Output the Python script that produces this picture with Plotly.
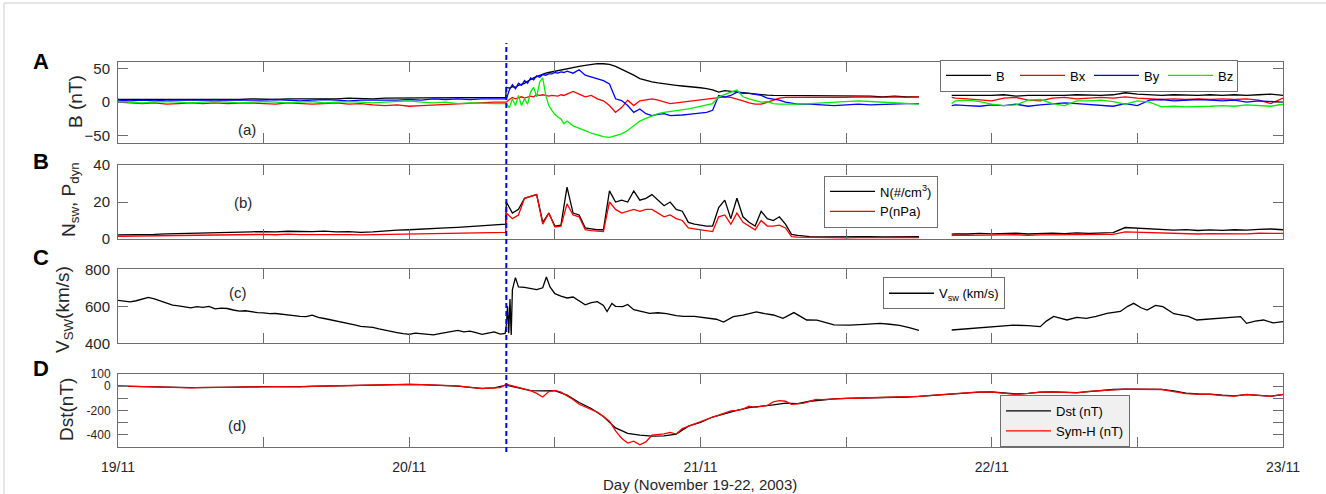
import pandas as pd
import plotly.graph_objects as go

# ---------------------------------------------------------------------------
# Time grids (hours after 19 Nov 2003 00:00 UT)
# ---------------------------------------------------------------------------
START = pd.Timestamp("2003-11-19 00:00")
shock_hour = 32.0

quiet_hours = list(range(0, 32))
imf_hours = (quiet_hours + [31.95]
             + [32 + 0.25 * i for i in range(21)]
             + [37.5 + 0.5 * i for i in range(38)]
             + list(range(57, 67)) + [67, 68.7] + list(range(69, 97)))

plasma_hours = (quiet_hours + [31.95]
                + [32 + 0.5 * i for i in range(49)]
                + list(range(57, 67)) + [67, 68.7] + list(range(69, 97)))

speed_hours = [0.5 * i for i in range(64)] + [
    31.9, 32.0, 32.1, 32.2, 32.3, 32.4, 32.5, 32.75, 33.0, 33.5,
    34.0, 34.5, 35.0, 35.3, 35.6, 36.0, 36.5, 37.0, 37.5, 38.0,
    38.5, 39.0, 39.5, 40.0, 40.3, 40.7, 41.0, 41.6, 42.0, 42.5,
    43.0, 43.8, 44.5, 45.2, 46.0, 46.6, 47.5, 48.5, 49.3, 49.9,
    50.7, 51.5, 52.6, 53.3, 54.0, 54.8, 55.7, 56.75, 57.6, 59.0,
    60.3, 61.5, 62.8, 63.6, 64.4, 65.2, 66.0, 67.0, 68.7, 70,
    71, 72, 73.8, 75, 76, 76.5, 77.1, 78.2, 79, 79.8,
    80.6, 81.5, 82.6, 83.2, 83.7, 84.3, 84.8, 85.5, 86.1, 87.0,
    87.5, 88.2, 88.9, 89.6, 90.3, 91.4, 92.5, 93.0, 93.7, 94.4,
    95.2, 96.0]

dst_hours = list(range(0, 97))
symh_hours = list(range(0, 28)) + [28 + 0.5 * i for i in range(73)] + list(range(65, 97))

# ---------------------------------------------------------------------------
# (a) IMF magnitude and GSM components, nT
# ---------------------------------------------------------------------------
imf_b = ([4, 4, 3, 4, 4, 3, 4, 4, 3, 4, 4, 5, 4, 4, 5, 5, 4, 5, 5, 6, 5, 5, 6, 6, 7, 6, 6, 7, 7, 6, 7, 7]
         + [7]
         + [22, 21, 23, 22, 25, 26, 28, 31, 34, 36, 38, 40, 42, 43, 44, 45, 45.5, 46, 47, 48, 49.5]
         + [51, 53, 54.5, 56, 57, 57, 56, 53, 49, 45, 40, 35, 32, 30, 28.5, 27, 26, 25, 24, 23.3,
            22.5, 21.4, 20, 18.4, 15, 17, 16, 15, 14, 12.5, 12, 11, 10.5, 10, 10, 10, 9.5, 9.5]
         + [9, 9, 9, 10, 9, 9, 8, 9, 8, 8] + [None]
         + [10, 10, 9, 10, 10, 11, 9, 10, 10, 9, 10, 11, 10, 10, 11, 14, 12, 11, 10, 11, 10, 10, 11, 10,
            11, 10, 11, 12, 10])

imf_bx = ([0, -1, -2, -1, -3, -2, -1, -2, -1, -2, -1, -1, -2, -3, -1, -2, -3, -2, -1, -3, -2, -4, -5, -4,
           -6, -5, -4, -3, -2, -1, 0, 0]
          + [0]
          + [0, 4, 7, 5, 7, 8, 6, 8, 9, 8, 11, 10, 11, 10, 9, 10, 10, 9, 11, 10, 12]
          + [16, 12, 8, 10, 5, 2, -5, -15, -8, 3, -5, 2, 4, 5, 3, 0, -2, -1, 0, 2,
             3, 4, 5, 6, 7, 8, 7, 5, 2, -1, -3, -3, 0, 4, 6, 7, 7, 7]
          + [7, 6, 7, 7, 8, 7, 7, 8, 7, 8] + [None]
          + [7, 6, 5, 3, 2, 6, 7, 3, 2, 6, 7, 5, 6, 7, 6, 8, 6, 5, 4, 5, 4, 5, 4, 5, 4, 5, 3, -2, 6])

imf_by = ([3, 2, 3, 2, 3, 3, 2, 3, 2, 3, 3, 2, 3, 4, 3, 2, 3, 4, 3, 2, 3, 3, 2, 3, 4, 3, 5, 4, 5, 4, 5, 5]
          + [5]
          + [5, 18, 26, 20, 28, 25, 32, 28, 36, 33, 39, 37, 41, 40, 42, 42, 44, 43, 45, 44, 46]
          + [43, 48, 40, 37, 35, 32, 27, 5, 2.5, -5, -15, -10, -17, -20, -18, -17, -20, -20, -19, -18,
             -17, -16, -15, -12, 10, 7.5, 10, 15, 13, 13, 12, 10, 6, 5, 3, 0, -2, -3]
          + [-3, -4, -5, -4, -3, -4, -3, -2, -2, -2] + [None]
          + [-5, -4, -5, -6, -4, -5, -3, -6, -4, -2, -1, -2, -3, -4, -6, -2, -5, 3, 4, 2, 3, 4, 3, 2, 3,
             0, 2, 1, 0])

imf_bz = ([1, 0, -1, 0, 1, 0, -1, 0, 1, 0, -1, 0, 1, 0, -1, 0, 1, -1, 0, 1, 0, -1, 0, 1, 2, 0, -1, 0,
           -2, -1, -2, -2]
          + [-2]
          + [-2, -8, 5, -5, 10, -5, 5, -3, 15, 22, 8, 30, 36, 10, -5, -12, -18, -22, -25, -32, -28]
          + [-35, -38, -42, -46, -49, -51, -52, -50, -47, -42, -35, -28, -24, -20, -17, -15, -14, -13,
             -11, -10, -8, -6, -4, -2, 8, 12, 15, 18, 8, 5, 2, 0, 1, -2, -3, -3, -4, -3]
          + [-2, -1, 0, 1, 2, 1, 0, -2, -3, -3] + [None]
          + [-2, 2, 3, 1, -3, -5, -4, 3, 4, -2, -5, 2, 2, 3, 1, -3, 2, 0, -7, -6, -7, -7, -6, -5, -6,
             -4, -5, -6, -3])

# ---------------------------------------------------------------------------
# (b) Solar-wind density (#/cm^3) and dynamic pressure (nPa)
# ---------------------------------------------------------------------------
sw_density = ([2.2, 2.3, 2.1, 2.5, 2.8, 3.0, 3.2, 3.4, 3.3, 3.6, 4.1, 3.9, 4.0, 3.8, 4.2, 3.9, 4.0, 4.3,
               3.8, 4.0, 3.6, 3.8, 4.5, 4.8, 5.0, 5.2, 5.6, 6.0, 6.3, 6.8, 7.2, 7.8]
              + [8.0]
              + [20, 14, 16, 22, 23, 24, 9, 14, 7, 7.5, 28, 14, 13, 6, 5.5, 5, 5, 26, 20, 21,
                 20, 26, 21, 22, 24, 21, 18, 20, 16, 15, 9, 8, 7.5, 7, 7, 17, 21, 11, 22, 12,
                 9, 7, 15, 11, 10, 12, 8, 2.5, 2.0]
              + [1.3, 1.1, 1.2, 1.0, 1.2, 1.3, 1.1, 1.2, 1.4, 1.3] + [None]
              + [2.6, 2.8, 2.7, 3.0, 2.8, 2.9, 3.1, 2.7, 3.0, 3.2, 2.9, 3.3, 3.0, 3.4, 3.5, 6.2, 5.8,
                 5.5, 5.0, 4.8, 5.1, 4.6, 4.9, 4.7, 5.0, 4.8, 5.2, 5.4, 5.0])

sw_pressure = ([1.5, 1.6, 1.4, 1.6, 1.8, 2.0, 2.1, 2.2, 2.1, 2.3, 2.5, 2.4, 2.5, 2.3, 2.6, 2.4, 2.5, 2.6,
                2.3, 2.4, 2.2, 2.3, 2.6, 2.8, 2.9, 3.0, 3.1, 3.2, 3.3, 3.4, 3.5, 3.6]
               + [3.6]
               + [14, 11, 13, 22, 23, 24, 8, 14, 6.5, 7, 19, 13, 12, 5, 4.5, 4.2, 4, 20, 16, 14,
                  15, 16, 15, 16, 16, 14, 12, 13, 11, 10, 6, 5.5, 5, 4.5, 4, 12, 13, 8, 14, 9,
                  7, 5, 10, 7, 7, 7.5, 6, 1.3, 1.0]
               + [0.8, 0.6, 0.7, 0.6, 0.7, 0.8, 0.6, 0.7, 0.8, 0.7] + [None]
               + [1.9, 2.1, 2.0, 2.2, 2.1, 2.2, 2.3, 2.0, 2.2, 2.3, 2.1, 2.4, 2.2, 2.4, 2.5, 3.8, 3.6,
                  3.3, 3.0, 2.8, 3.0, 2.7, 2.9, 2.8, 3.0, 2.8, 3.1, 3.2, 3.0])

# ---------------------------------------------------------------------------
# (c) Solar-wind speed, km/s
# ---------------------------------------------------------------------------
sw_speed = ([632, 628, 624, 630, 638, 648, 640, 628, 614, 606, 602, 596, 592, 598, 594, 600,
             586, 590, 588, 580, 574, 576, 570, 566, 564, 560, 561, 556, 552, 550, 546, 544,
             552, 540, 534, 528, 518, 514, 510, 500, 492, 490, 486, 478, 470, 466, 458, 452,
             448, 455, 452, 448, 446, 452, 458, 466, 470, 462, 466, 458, 448, 455, 462, 450]
            + [454, 500, 600, 455, 640, 445, 690, 755, 705, 702,
               698, 690, 700, 758, 705, 668, 655, 645, 650, 630,
               608, 620, 625, 605, 572, 615, 600, 598, 610, 582,
               575, 562, 565, 560, 550, 545, 545, 538, 530, 515,
               544, 552, 570, 560, 553, 535, 566, 526, 525, 500,
               498, 502, 508, 503, 497, 485, 470, None, 472, 478,
               482, 488, 498, 495, 490, 520, 545, 526, 540, 535,
               545, 562, 572, 600, 616, 592, 580, 605, 598, 560,
               553, 545, 526, 530, 535, 540, 544, 508, 520, 526,
               510, 517])

# ---------------------------------------------------------------------------
# (d) Geomagnetic indices, nT
# ---------------------------------------------------------------------------
dst_index = [0, -2, -5, -10, -13, -14, -13, -12, -12, -10,
             -8, -6, -5, -6, -7, -5, -2, 0, 3, 7,
             10, 12, 13, 14, 14, 12, 10, 7, 0, -10,
             -18, -15, 8, -15, -38, -40, -38, -75, -135, -185,
             -250, -345, -390, -405, -412, -410, -396, -330, -300, -255,
             -225, -200, -178, -168, -155, -140, -145, -125, -112, -105,
             -101, -100, -97, -95, -95, -90, -85, -78, -70, -62,
             -55, -50, -48, -55, -65, -60, -50, -48, -52, -54,
             -45, -35, -28, -26, -25, -25, -27, -40, -58, -65,
             -66, -75, -80, -70, -75, -82, -70]

sym_h = ([2, -1, -4, -9, -14, -13, -14, -11, -13, -10, -9, -5, -6, -4, -8, -6, -1, 1, 4, 6, 11, 12, 14,
          13, 15, 12, 9, 8]
         + [2, -4, -10, -15, -20, -17, -14, -12,
            15, 2, -13, -25, -38, -60, -90, -45,
            -35, -50, -80, -110, -150, -170, -190, -215,
            -250, -290, -370, -430, -470, -455, -485, -460,
            -405, -400, -395, -382, -396, -350, -330, -310,
            -295, -275, -255, -240, -225, -205, -200, -190,
            -165, -175, -168, -160, -130, -120, -125, -150,
            -146, -140, -125, -110, -112, -108, -104, -103,
            -101, -100, -99, -98, -97, -96, -95, -95, -94]
         + [-90, -84, -76, -68, -62, -56, -48, -50, -58, -68, -60, -49, -47, -53, -55, -44, -36, -27,
            -25, -26, -24, -28, -45, -62, -66, -68, -78, -82, -68, -76, -84, -68])

# ---------------------------------------------------------------------------
# Axis labelling
# ---------------------------------------------------------------------------
tick_hours = list(range(0, 97, 12))
tick_text = ["19/11", "", "20/11", "", "21/11", "", "22/11", "", "23/11"]
dst_ticks = [-500, -400, -300, -200, -100, 0, 100]
dst_tick_text = ["", "-400", "", "-200", "", "0", "100"]


def stamp(hours):
    return [START + pd.Timedelta(hours=float(h)) for h in hours]


FONT = "Liberation Sans, Arial, Helvetica, sans-serif"
INK = "#262626"
FRAME = "#6e6e6e"
W, H = 1326, 494
LEFT, RIGHT = 118, 1283
panels = [(61.7, 142.7), (165.0, 239.0), (269.3, 343.3), (374.0, 446.7)]


def px_x(x):
    return x / W


def px_y(y):
    return 1 - y / H


fig = go.Figure()

# Panel (a)
for name, vals, col in [("B", imf_b, "#000000"), ("Bx", imf_bx, "#ff0000"),
                        ("By", imf_by, "#0000ff"), ("Bz", imf_bz, "#00ee00")]:
    fig.add_trace(go.Scatter(x=stamp(imf_hours), y=vals, mode="lines", name=name,
                             line=dict(color=col, width=1.3), xaxis="x", yaxis="y",
                             legend="legend"))

# Panel (b)
fig.add_trace(go.Scatter(x=stamp(plasma_hours), y=sw_density, mode="lines",
                         name="N(#/cm<sup>3</sup>)", line=dict(color="#000000", width=1.3),
                         xaxis="x2", yaxis="y2", legend="legend2"))
fig.add_trace(go.Scatter(x=stamp(plasma_hours), y=sw_pressure, mode="lines",
                         name="P(nPa)", line=dict(color="#ff0000", width=1.3),
                         xaxis="x2", yaxis="y2", legend="legend2"))

# Panel (c)
fig.add_trace(go.Scatter(x=stamp(speed_hours), y=sw_speed, mode="lines",
                         name="V<sub>sw</sub> (km/s)", line=dict(color="#000000", width=1.3),
                         xaxis="x3", yaxis="y3", legend="legend3"))

# Panel (d)
fig.add_trace(go.Scatter(x=stamp(dst_hours), y=dst_index, mode="lines",
                         name="Dst (nT)", line=dict(color="#000000", width=1.3),
                         xaxis="x4", yaxis="y4", legend="legend4"))
fig.add_trace(go.Scatter(x=stamp(symh_hours), y=sym_h, mode="lines",
                         name="Sym-H (nT)", line=dict(color="#ff0000", width=1.3),
                         xaxis="x4", yaxis="y4", legend="legend4"))

common = dict(showline=True, linecolor=FRAME, linewidth=1, mirror="ticks",
              ticks="inside", ticklen=10, tickwidth=1, tickcolor=FRAME,
              showgrid=False, zeroline=False, automargin=False,
              tickfont=dict(family=FONT, size=15, color=INK))

x_domain = [px_x(LEFT), px_x(RIGHT)]
x_range = [START, START + pd.Timedelta(hours=96)]
y_ranges = [[-60, 60], [0, 40], [400, 800], [-500, 100]]
y_ticks = [[-50, 0, 50], [0, 20, 40], [400, 600, 800], dst_ticks]

layout = dict(width=W, height=H, margin=dict(l=0, r=0, t=0, b=0, pad=0, autoexpand=False),
              autosize=False, paper_bgcolor="white", plot_bgcolor="white",
              font=dict(family=FONT, color=INK))

for i, (top, bottom) in enumerate(panels):
    suffix = "" if i == 0 else str(i + 1)
    xa = dict(common, domain=x_domain, range=x_range, anchor="y" + suffix,
              tickvals=stamp(tick_hours), ticktext=tick_text,
              showticklabels=(i == 3), ticklabelstandoff=7)
    ya = dict(common, domain=[px_y(bottom), px_y(top)], range=y_ranges[i],
              anchor="x" + suffix, tickvals=y_ticks[i], ticklabelstandoff=4)
    if i == 3:
        ya["ticktext"] = dst_tick_text
        ya["tickfont"] = dict(family=FONT, size=12, color=INK)
        xa["tickfont"] = dict(family=FONT, size=14, color=INK)
    layout["xaxis" + suffix] = xa
    layout["yaxis" + suffix] = ya

legend_common = dict(font=dict(family=FONT, size=13, color="#000000"),
                     bordercolor=FRAME, borderwidth=1, xanchor="left", yanchor="top",
                     xref="paper", yref="paper", traceorder="normal", itemwidth=45)
layout["legend"] = dict(legend_common, x=px_x(940), y=px_y(59.5), orientation="h",
                        bgcolor="white", entrywidth=14)
layout["legend2"] = dict(legend_common, x=px_x(824), y=px_y(175.5), bgcolor="white")
layout["legend3"] = dict(legend_common, x=px_x(883), y=px_y(277.3), bgcolor="white")
layout["legend4"] = dict(legend_common, x=px_x(1000), y=px_y(395), bgcolor="#f0f0f0")

fig.update_layout(**layout)

# Shock arrival marker
fig.add_shape(type="line", xref="x4", yref="paper",
              x0=START + pd.Timedelta(hours=shock_hour), x1=START + pd.Timedelta(hours=shock_hour),
              y0=px_y(452), y1=px_y(43), line=dict(color="#0000ff", width=2, dash="5px,3px"))

# Thin page frame on the left and top edges
fig.add_shape(type="line", xref="paper", yref="paper", x0=px_x(4), x1=px_x(4), y0=0, y1=px_y(3),
              line=dict(color="#cccccc", width=1))
fig.add_shape(type="line", xref="paper", yref="paper", x0=px_x(4), x1=1, y0=px_y(3), y1=px_y(3),
              line=dict(color="#cccccc", width=1))

# Panel letters, panel tags, axis titles
notes = [("A", 41, 62), ("B", 41, 161), ("C", 41, 257), ("D", 41, 368)]
for text, x, y in notes:
    fig.add_annotation(text=f"<b>{text}</b>", x=px_x(x), y=px_y(y), xref="paper", yref="paper",
                       showarrow=False, xanchor="center", yanchor="middle",
                       font=dict(family=FONT, size=22, color="#000000"))

tags = [("(a)", 247, 130), ("(b)", 243, 202), ("(c)", 238, 292), ("(d)", 237, 425)]
for text, x, y in tags:
    fig.add_annotation(text=text, x=px_x(x), y=px_y(y), xref="paper", yref="paper",
                       showarrow=False, xanchor="center", yanchor="middle",
                       font=dict(family=FONT, size=15, color=INK))

titles = [("B (nT)", 75, 102), ("N<sub>sw</sub>, P<sub>dyn</sub>", 70, 200),
          ("V<sub>SW</sub>(km/s)", 64, 310), ("Dst(nT)", 66, 410)]
for text, x, y in titles:
    fig.add_annotation(text=text, x=px_x(x), y=px_y(y), xref="paper", yref="paper",
                       showarrow=False, xanchor="center", yanchor="middle", textangle=-90,
                       font=dict(family=FONT, size=19, color=INK))

fig.add_annotation(text="Day (November 19-22, 2003)", x=px_x(700), y=px_y(484),
                   xref="paper", yref="paper", showarrow=False,
                   xanchor="center", yanchor="middle",
                   font=dict(family=FONT, size=15, color=INK))

# Page without body margin so the figure sits flush in the window
fig.write_html("out.html",
               post_script="document.body.style.margin='0';"
                           "document.body.style.overflow='hidden';")
